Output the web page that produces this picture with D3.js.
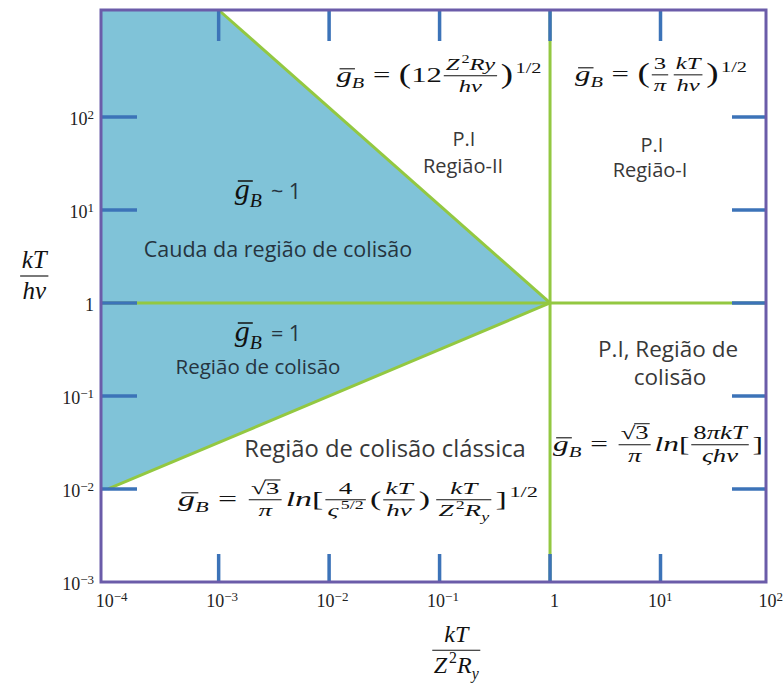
<!DOCTYPE html>
<html lang="pt">
<head>
<meta charset="utf-8">
<title>Fator de Gaunt - regiões</title>
<script src="https://cdn.jsdelivr.net/npm/d3@7"></script>
<style>
  body { margin: 0; background: #fff; }
  .math text { font-family: "Liberation Serif", "DejaVu Serif", serif; fill: #111; }
  .lbl { font-family: "Open Sans", Lato, sans-serif; fill: #383838; text-anchor: middle; }
  .math text.lbl { font-family: "Open Sans", Lato, sans-serif; }
  .lbl.dark { fill: #26343f; }
</style>
</head>
<body>
<svg id="chart" width="783" height="684"></svg>
<script>
// eixos (log)
var xTicks = [1e-4, 1e-3, 1e-2, 1e-1, 1, 10, 100];
var yTicks = [1e-3, 1e-2, 1e-1, 1, 10, 100];
var xInnerTicks = [1e-3, 1e-2, 1e-1, 1, 10];
var yInnerTicks = [1e-2, 1e-1, 1, 10, 100];
var xDomain = [Math.pow(10, -4.065), Math.pow(10, 1.955)];
var yDomain = [1e-3, Math.pow(10, 3.15)];

// região azul (cauda + região de colisão)
var tailRegion = [[xDomain[0], yDomain[1]], [1e-3, yDomain[1]], [1, 1], [1e-4, 1e-2], [xDomain[0], 1e-2]];
// linhas verdes de fronteira
var boundaries = [
  [[1e-3, yDomain[1]], [1, 1]],
  [[1e-4, 1e-2], [1, 1]],
  [[xDomain[0], 1], [xDomain[1], 1]],
  [[1, yDomain[0]], [1, yDomain[1]]]
];

var FILL = "#80c3d8", GREEN = "#93c841", FRAME = "#6b5ca9", TICK = "#3c73b8", INK = "#111";

var svg = d3.select("#chart");
var x = d3.scaleLog().domain(xDomain).range([101, 766]);
var y = d3.scaleLog().domain(yDomain).range([582, 10]);
var line = d3.line().x(function(d) { return x(d[0]); }).y(function(d) { return y(d[1]); });

svg.append("path").attr("d", line(tailRegion) + "Z").attr("fill", FILL);

svg.selectAll(".bnd").data(boundaries).enter().append("path")
  .attr("class", "bnd").attr("d", line)
  .attr("fill", "none").attr("stroke", GREEN).attr("stroke-width", 3);

// marcas internas
var tk = svg.append("g").attr("stroke", TICK).attr("stroke-width", 3.5);
yInnerTicks.forEach(function(t) {
  tk.append("line").attr("x1", x.range()[0]).attr("x2", x.range()[0] + 36).attr("y1", y(t)).attr("y2", y(t));
  tk.append("line").attr("x1", x.range()[1] - 34).attr("x2", x.range()[1]).attr("y1", y(t)).attr("y2", y(t));
});
xInnerTicks.forEach(function(t) {
  tk.append("line").attr("x1", x(t)).attr("x2", x(t)).attr("y1", y.range()[1]).attr("y2", y.range()[1] + 31);
  tk.append("line").attr("x1", x(t)).attr("x2", x(t)).attr("y1", y.range()[0] - 28).attr("y2", y.range()[0]);
});

svg.append("rect")
  .attr("x", x.range()[0]).attr("y", y.range()[1])
  .attr("width", x.range()[1] - x.range()[0]).attr("height", y.range()[0] - y.range()[1])
  .attr("fill", "none").attr("stroke", FRAME).attr("stroke-width", 3);

// rótulos dos eixos com expoentes
function powLabel(sel) {
  sel.each(function(d) {
    var e = Math.round(Math.log10(d));
    var t = d3.select(this).text(null);
    if (e === 0) { t.append("tspan").text("1"); return; }
    t.append("tspan").text("10");
    t.append("tspan").attr("dy", "-0.45em").style("font-size", "13px").text(e < 0 ? "\u2212" + (-e) : e);
  });
}
var ax = svg.append("g").attr("transform", "translate(" + x.range()[0] + ",0)")
  .call(d3.axisLeft(y).tickValues(yTicks).tickSize(0).tickPadding(7));
ax.select(".domain").remove();
ax.selectAll(".tick text")
  .style("font-family", "'Liberation Serif', serif").style("font-size", "18px").attr("fill", "#222")
  .attr("dy", "0.4em").call(powLabel);

var bx = svg.append("g").attr("transform", "translate(0," + y.range()[0] + ")")
  .call(d3.axisBottom(x).tickValues(xTicks).tickSize(0).tickPadding(19));
bx.select(".domain").remove();
bx.selectAll(".tick text")
  .style("font-family", "'Liberation Serif', serif").style("font-size", "18px").attr("fill", "#222")
  .attr("dy", "0.35em")
  .attr("text-anchor", function(d) { return d === 1 ? "middle" : "start"; })
  .attr("x", function(d) { return d === 1 ? 4 : -13; })
  .call(powLabel);

// pequeno motor de fórmulas
function T(s, o) {
  o = o || {};
  return function(g, px, size) {
    var t = g.append("text").attr("x", px + (o.lp || 0) * size).attr("y", (o.dy || 0) * size)
      .attr("font-size", size * (o.k || 1)).attr("font-style", o.it ? "italic" : "normal").text(s);
    if (o.cls) t.attr("class", o.cls).style("text-anchor", "start");
    return px + (o.lp || 0) * size + t.node().getComputedTextLength() + (o.rp || 0) * size;
  };
}
function I(s, o) { o = o || {}; o.it = true; return T(s, o); }
function SUP(s, it) { return T(s, { k: 0.66, dy: -0.42, lp: 0.08, it: it }); }
function SUB(s, it) { return T(s, { k: 0.66, dy: 0.25, it: it }); }
function EQ() { return T("=", { lp: 0.28, rp: 0.28 }); }
function ROW(g, parts, size) { var p = 0; parts.forEach(function(f) { p = f(g, p, size); }); return p; }
function GB() {
  return function(g, px, size) {
    var t = g.append("text").attr("x", px).attr("font-size", size).attr("font-style", "italic").text("g");
    var w = t.node().getComputedTextLength();
    g.append("line").attr("x1", px + size * 0.1).attr("x2", px + w + size * 0.1)
      .attr("y1", -size * 0.6).attr("y2", -size * 0.6)
      .attr("stroke", INK).attr("stroke-width", Math.max(1, size * 0.05));
    return SUB("B", true)(g, px + w, size);
  };
}
function FRAC(num, den, k) {
  k = k || 0.8;
  return function(g, px, size) {
    var fs = size * k;
    var gn = g.append("g"), gd = g.append("g");
    var wn = ROW(gn, num, fs), wd = ROW(gd, den, fs);
    var w = Math.max(wn, wd) + size * 0.25;
    var ly = -size * 0.28;
    gn.attr("transform", "translate(" + (px + (w - wn) / 2) + "," + (ly - fs * 0.33) + ")");
    gd.attr("transform", "translate(" + (px + (w - wd) / 2) + "," + (ly + fs * 0.93) + ")");
    g.append("line").attr("x1", px + size * 0.06).attr("x2", px + w - size * 0.06).attr("y1", ly).attr("y2", ly)
      .attr("stroke", INK).attr("stroke-width", Math.max(1, size * 0.045));
    return px + w + size * 0.06;
  };
}
function SQRT(s) {
  return function(g, px, size) {
    var r = g.append("text").attr("x", px).attr("font-size", size).text("\u221a");
    var w = r.node().getComputedTextLength();
    var t = g.append("text").attr("x", px + w).attr("font-size", size).text(s);
    var w2 = t.node().getComputedTextLength();
    g.append("line").attr("x1", px + w - size * 0.04).attr("x2", px + w + w2 + size * 0.04)
      .attr("y1", -size * 0.8).attr("y2", -size * 0.8)
      .attr("stroke", INK).attr("stroke-width", Math.max(1, size * 0.05));
    return px + w + w2;
  };
}
function math(cx, base, parts, size, width) {
  var g = svg.append("g").attr("class", "math");
  var inner = g.append("g");
  var w = ROW(inner, parts, size);
  var sx = width ? width / w : 1;
  g.attr("transform", "translate(" + (cx - w * sx / 2) + "," + base + ") scale(" + sx + ",1)");
}
function label(cx, base, s, size, cls) {
  svg.append("text").attr("class", "lbl" + (cls ? " " + cls : "")).attr("x", cx).attr("y", base)
    .attr("font-size", size).text(s);
}

// títulos dos eixos
math(35, 283, [FRAC([I("kT")], [I("h\u03bd")], 1.0)], 25);
math(457, 657, [FRAC([I("kT")], [I("Z"), SUP("2"), I("R"), SUB("y", true)], 1.0)], 24);

// fórmulas
math(439, 82, [GB(), EQ(), T("(", { k: 1.2, dy: 0.05 }), T("12"),
  FRAC([I("Z"), SUP("2"), I("Ry")], [I("h\u03bd")]), T(")", { k: 1.2, dy: 0.05 }), SUP("1/2")], 22, 205);
math(661, 81, [GB(), EQ(), T("(", { k: 1.2, dy: 0.05 }),
  FRAC([T("3")], [I("\u03c0")]), FRAC([I("kT")], [I("h\u03bd")]), T(")", { k: 1.2, dy: 0.05 }), SUP("1/2")], 22, 172);
math(358, 506, [GB(), EQ(), FRAC([SQRT("3")], [I("\u03c0")]), I("ln"), T("["),
  FRAC([T("4")], [I("\u03c2"), SUP("5/2")]), T("("), FRAC([I("kT")], [I("h\u03bd")]), T(")", { rp: 0.12 }),
  FRAC([I("kT")], [I("Z"), SUP("2"), I("R"), SUB("y", true)]), T("]"), SUP("1/2")], 22, 360);
math(658, 451, [GB(), EQ(), FRAC([SQRT("3")], [I("\u03c0")], 0.85), I("ln"), T("["),
  FRAC([T("8"), I("\u03c0kT")], [I("\u03c2h\u03bd")], 0.85), T("]")], 22, 210);

math(268, 199, [GB(), T("~ 1", { cls: "lbl dark", lp: 0.3, k: 0.72 })], 30);
math(268, 341, [GB(), T("= 1", { cls: "lbl dark", lp: 0.3, k: 0.72 })], 30);

// textos das regiões
label(464, 146, "P.I", 20);
label(463, 173, "Região-II", 20);
label(652, 152, "P.I", 20);
label(650, 177, "Região-I", 20);
label(278, 257, "Cauda da região de colisão", 21.5, "dark");
label(258, 374, "Região de colisão", 20.5, "dark");
label(385, 457, "Região de colisão clássica", 23.8);
label(668, 357, "P.I, Região de", 22.5);
label(670, 385, "colisão", 22.5);
</script>
</body>
</html>
